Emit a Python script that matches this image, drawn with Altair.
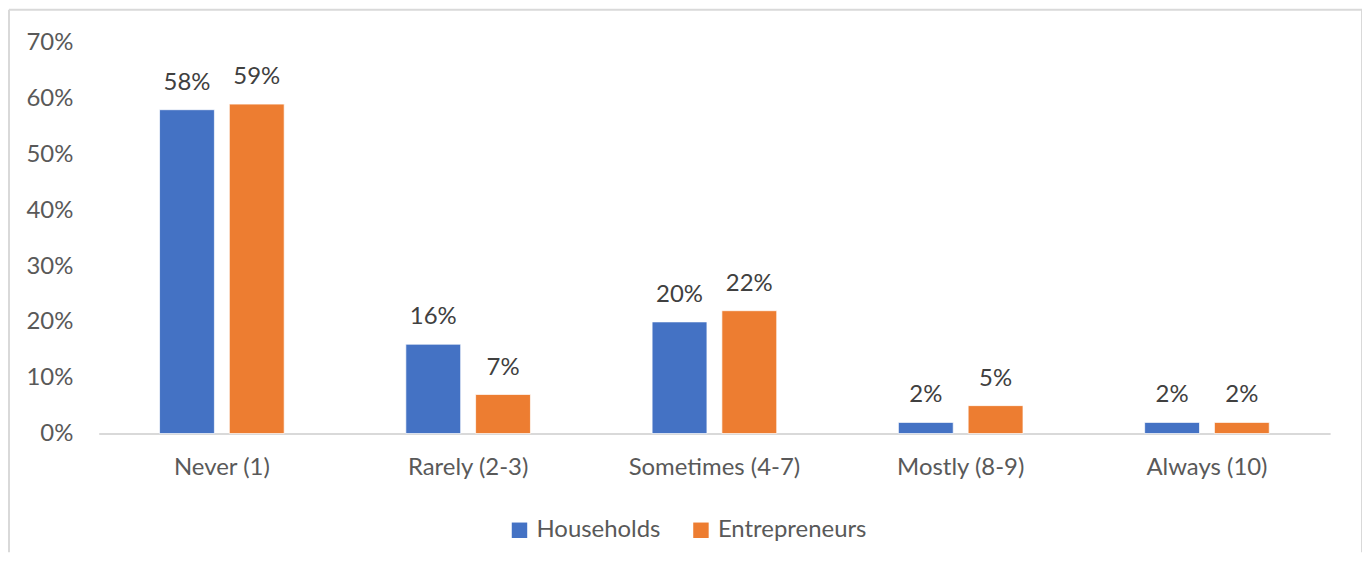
import altair as alt
import pandas as pd

categories = ["Never (1)", "Rarely (2-3)", "Sometimes (4-7)", "Mostly (8-9)", "Always (10)"]
series = ["Households", "Entrepreneurs"]
households = [0.58, 0.16, 0.20, 0.02, 0.02]
entrepreneurs = [0.59, 0.07, 0.22, 0.05, 0.02]
colors = ["#4472C4", "#ED7D31"]
y_ticks = [0, 0.1, 0.2, 0.3, 0.4, 0.5, 0.6, 0.7]

rows = []
for c, h, e in zip(categories, households, entrepreneurs):
    rows.append({"category": c, "series": "Households", "value": h})
    rows.append({"category": c, "series": "Entrepreneurs", "value": e})
df = pd.DataFrame(rows)

W, H = 1235, 392
PAD = {"left": 91, "top": 34, "right": 32, "bottom": 119}
FONT = "Lato"
FS = 24

x = alt.X("category:N", sort=categories, title=None,
          scale=alt.Scale(paddingInner=0.494, paddingOuter=0.247),
          axis=alt.Axis(labelAngle=0, labelFontSize=FS, labelColor="#595959",
                        labelFont=FONT, labelBaseline="alphabetic", labelPadding=41,
                        ticks=False, domainColor="#d9d9d9", domainWidth=2))
xo = alt.XOffset("series:N", sort=series,
                 scale=alt.Scale(paddingInner=0.214, paddingOuter=0))
y = alt.Y("value:Q", title=None,
          scale=alt.Scale(domain=[0, 0.7], nice=False),
          axis=alt.Axis(values=y_ticks, format=".0%", labelFontSize=FS,
                        labelColor="#595959", labelFont=FONT, labelPadding=26,
                        ticks=False, domain=False, grid=False))

bars = alt.Chart(df).mark_bar(stroke="white", strokeWidth=0.7).encode(
    x=x, xOffset=xo, y=y,
    color=alt.Color("series:N", sort=series,
                    scale=alt.Scale(domain=series, range=colors),
                    legend=alt.Legend(title=None, orient="none", legendX=410, legendY=477,
                                      direction="horizontal", symbolType="square",
                                      symbolSize=240, symbolStrokeWidth=0,
                                      labelFontSize=FS, labelColor="#595959",
                                      labelFont=FONT, labelOffset=5, columnPadding=28)),
)

labels = alt.Chart(df).mark_text(
    baseline="alphabetic", dy=-20, fontSize=FS, font=FONT, color="#404040"
).encode(
    x=alt.X("category:N", sort=categories), xOffset=alt.XOffset("series:N", sort=series),
    y="value:Q", text=alt.Text("value:Q", format=".0%"),
)

frame_data = alt.Data(values=[{"k": 1}])
left_line = alt.Chart(frame_data).mark_rule(color="#d9d9d9", strokeWidth=2).encode(
    x=alt.value(-PAD["left"] + 1), y=alt.value(-PAD["top"] + 1), y2=alt.value(H + PAD["bottom"]))
top_line = alt.Chart(frame_data).mark_rule(color="#d9d9d9", strokeWidth=2).encode(
    x=alt.value(-PAD["left"] + 1), x2=alt.value(W + PAD["right"]), y=alt.value(-PAD["top"] + 1))
right_line = alt.Chart(frame_data).mark_rule(color="#d9d9d9", strokeWidth=2).encode(
    x=alt.value(W + PAD["right"]), y=alt.value(-PAD["top"] + 1), y2=alt.value(H + PAD["bottom"]))

chart = alt.layer(bars, labels, left_line, top_line, right_line).properties(
    width=W, height=H,
    autosize=alt.AutoSizeParams(type="none"),
    padding=PAD,
    background="white",
).configure_view(stroke=None)

chart.save("out.html", embed_options={"renderer": "svg", "actions": False})
